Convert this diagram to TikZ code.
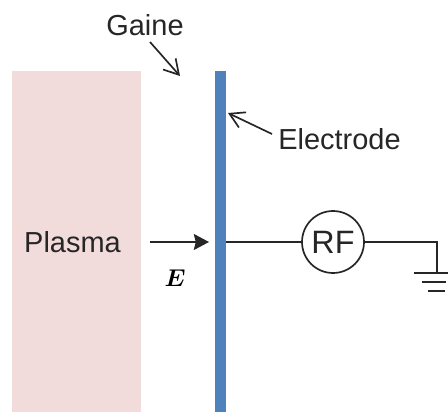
\documentclass[tikz,border=0pt]{standalone}
\usepackage{fontspec}
\setmainfont{Liberation Sans}
\usepackage{amsmath}
\usetikzlibrary{arrows.meta, positioning}
\definecolor{plasmafill}{HTML}{F2DCDB}
\definecolor{electrodefill}{HTML}{4F81BD}
\definecolor{wireline}{HTML}{262626}
\tikzset{
  lbl/.style    = {font=\fontsize{20.6}{24}\selectfont, text=black!85, inner sep=0pt},
  wire/.style   = {draw=wireline, line width=0.42mm},
  pointer/.style= {wire, -{Straight Barb[length=3.6mm, width=4.2mm]}},
  field/.style  = {wire, -{Stealth[length=3.8mm, width=4mm, inset=0.5mm]}},
}
\begin{document}
\begin{tikzpicture}[x=0.25mm, y=-0.25mm]
	\useasboundingbox (0,0) rectangle (448,412);

	\node[fill=plasmafill, minimum width=32.25mm, minimum height=85.25mm, inner sep=0pt]
	(plasma) at (76.5,241.5) {};
	\node[fill=electrodefill, minimum width=2.75mm, minimum height=85.25mm, inner sep=0pt]
	(electrode) at (220.5,241.5) {};
	\node[draw=wireline, line width=0.42mm, circle, fill=white, minimum size=15.5mm, inner sep=0pt,
	lbl, font=\fontsize{23}{26}\selectfont] (rf) at (333,242) {RF};

	\node[lbl] (plasmalbl) at (72.5,242) {Plasma};
	\node[lbl] (gaine) at (145,25) {Gaine};
	\node[lbl, anchor=west] (electrodelbl) at (278,139) {Electrode};
	\node[font=\fontsize{17}{20}\selectfont, inner sep=0pt] (field) at (175,278) {$\boldsymbol{E}$};

	\coordinate (gainestart) at (150,42);
	\coordinate (gainetip) at (180,76);
	\coordinate (elecstart) at (272,134);
	\coordinate (electip) at (228,113);
	\coordinate (fieldstart) at (150,242);
	\coordinate (fieldend) at (209,242);
	\coordinate (corner) at (437,242);
	\coordinate (gndtop) at (437,273);

	\draw[pointer] (gainestart) -- (gainetip);
	\draw[pointer] (elecstart) -- (electip);
	\draw[field] (fieldstart) -- (fieldend);

	\draw[wire] (electrode.east |- rf) -- (rf.west);
	\draw[wire] (rf.east) -- (corner) -- (gndtop);

	% ground symbol
	\coordinate (gnda) at (414,273);
	\coordinate (gndb) at (448,273);
	\coordinate (gndc) at (422,282);
	\coordinate (gndd) at (446,282);
	\coordinate (gnde) at (428,291);
	\coordinate (gndf) at (445,291);
	\draw[wire] (gnda) -- (gndb);
	\draw[wire] (gndc) -- (gndd);
	\draw[wire] (gnde) -- (gndf);
\end{tikzpicture}
\end{document}
